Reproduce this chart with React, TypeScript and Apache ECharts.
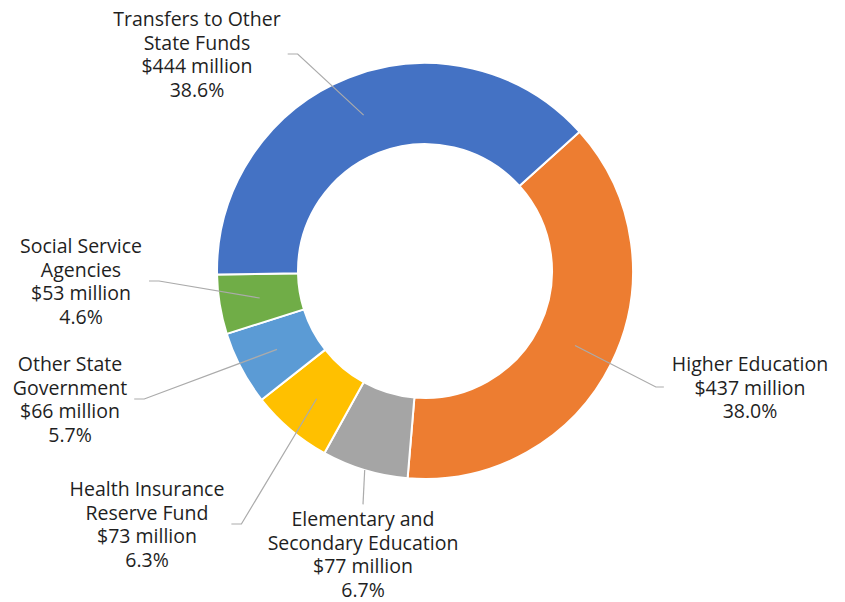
import React, { useEffect, useRef } from 'react';
import * as echarts from 'echarts';

// ---- data ----
const categories = [
  'Higher Education',
  'Elementary and\nSecondary Education',
  'Health Insurance\nReserve Fund',
  'Other State\nGovernment',
  'Social Service\nAgencies',
  'Transfers to Other\nState Funds',
];
const valuesMillions = [437, 77, 73, 66, 53, 444];

// ---- styling / layout ----
const colors = ['#ED7D31', '#A5A5A5', '#FFC000', '#5B9BD5', '#70AD47', '#4472C4'];
const labelCentres = [
  [750, 387],
  [363, 554],
  [147, 524],
  [70, 399],
  [81, 281],
  [197, 54],
];
const labelSides = ['left', 'top', 'right', 'right', 'right', 'right'];
const anchorAtOuter = [false, true, false, false, false, false];

const CX = 425;
const CY = 271;
const R_IN = 127;
const R_OUT = 208;
const START_ANGLE = 42;

export default function App() {
  const ref = useRef<HTMLDivElement>(null);

  useEffect(() => {
    if (!ref.current) return;
    const chart = echarts.init(ref.current, undefined, { renderer: 'svg' });
    const total = valuesMillions.reduce((a, b) => a + b, 0);
    const midAngles: number[] = [];
    let cum = 0;
    valuesMillions.forEach((v) => {
      midAngles.push(START_ANGLE - ((cum + v / 2) / total) * 360);
      cum += v;
    });

    const base = {
      type: 'pie',
      silent: true,
      center: [CX, CY],
      radius: [R_IN, R_OUT],
      startAngle: START_ANGLE,
      clockwise: true,
      avoidLabelOverlap: false,
      emphasis: { disabled: true },
    };

    chart.setOption({
      animation: false,
      backgroundColor: '#ffffff',
      series: [
        {
          ...base,
          z: 2,
          itemStyle: { borderColor: '#ffffff', borderWidth: 2 },
          label: { show: false },
          labelLine: { show: false },
          data: categories.map((name, i) => ({
            name,
            value: valuesMillions[i],
            itemStyle: { color: colors[i] },
          })),
        },
        {
          ...base,
          z: 5,
          itemStyle: { color: 'rgba(0,0,0,0)', borderWidth: 0 },
          label: {
            show: true,
            position: 'outside',
            color: '#1f1f1f',
            fontFamily: 'Open Sans',
            fontSize: 19.5,
            lineHeight: 23.8,
            align: 'center',
            formatter: (p: any) => {
              const v = valuesMillions[p.dataIndex];
              const pct = ((v / total) * 100).toFixed(1);
              return `${p.name}\n$${v} million\n${pct}%`;
            },
          },
          labelLine: {
            show: true,
            showAbove: true,
            length: 10,
            length2: 10,
            lineStyle: { color: '#ABABAB', width: 1.2 },
          },
          labelLayout: (params: any) => {
            const i = params.dataIndex;
            const [lx, ly] = labelCentres[i];
            const w = params.labelRect.width;
            const h = params.labelRect.height;
            const a = (midAngles[i] * Math.PI) / 180;
            const r = anchorAtOuter[i] ? R_OUT : (R_IN + R_OUT) / 2;
            const p0 = [CX + r * Math.cos(a), CY - r * Math.sin(a)];
            let p1: number[];
            let p2: number[];
            const side = labelSides[i];
            if (side === 'right') {
              p2 = [lx + w / 2 + 7, ly];
              p1 = [p2[0] + 10, ly];
            } else if (side === 'left') {
              p2 = [lx - w / 2 - 8, ly];
              p1 = [p2[0] - 8, ly];
            } else {
              p2 = [lx, ly - h / 2 - 2];
              p1 = [lx, ly - h / 2 - 2];
            }
            return {
              x: lx,
              y: ly,
              align: 'center',
              verticalAlign: 'middle',
              labelLinePoints: [p0, p1, p2],
            };
          },
          data: categories.map((name, i) => ({
            name,
            value: valuesMillions[i],
          })),
        },
      ],
    });

    return () => chart.dispose();
  }, []);

  return (
    <div
      ref={ref}
      style={{ position: 'absolute', left: 0, top: 0, width: 845, height: 602 }}
    />
  );
}
